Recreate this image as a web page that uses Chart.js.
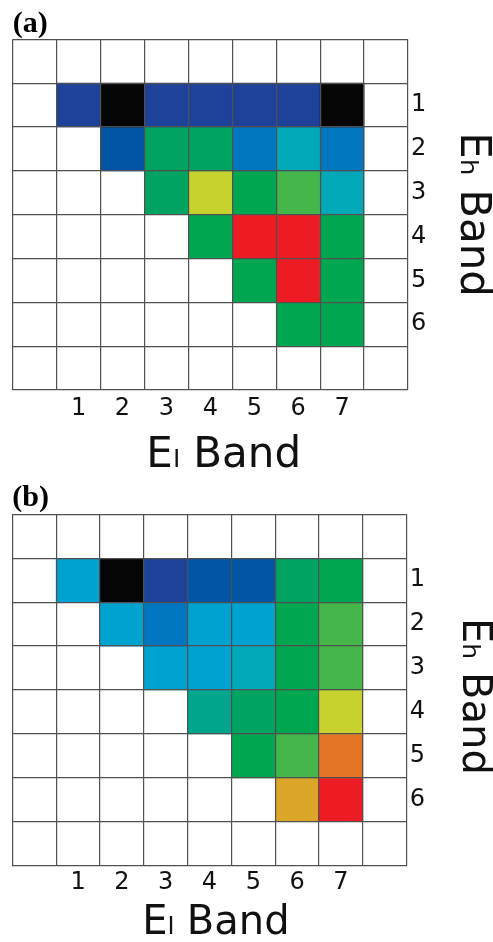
<!DOCTYPE html>
<html>
<head>
<meta charset="utf-8">
<title>E band maps</title>
<script src="https://cdn.jsdelivr.net/npm/chart.js@4.4.1/dist/chart.umd.min.js"></script>
<style>
  body { margin: 0; background: #fff; }
  canvas { display: block; }
</style>
</head>
<body>
<canvas id="chart-a" width="493" height="480"></canvas>
<canvas id="chart-b" width="493" height="462"></canvas>
<script>
const columnLabels = ['', '1', '2', '3', '4', '5', '6', '7', ''];
const rowLabels = ['', '1', '2', '3', '4', '5', '6', ''];

// colour levels, low (black) to high (red)
const palette = ['#050505', '#1e419a', '#0255a5', '#0077c0', '#00a2d0', '#00a8b8', '#00a58c',
  '#00a360', '#00a650', '#45b649', '#c8d22e', '#dba527', '#e47425', '#ed1c24'];

// rows = Eh band 1-6, columns = El band 1-7, null = empty cell
const levelsA = [
  [1, 0, 1, 1, 1, 1, 0],
  [null, 2, 7, 7, 3, 5, 3],
  [null, null, 7, 10, 8, 9, 5],
  [null, null, null, 8, 13, 13, 8],
  [null, null, null, null, 8, 13, 8],
  [null, null, null, null, null, 8, 8],
];
const levelsB = [
  [4, 0, 1, 2, 2, 7, 8],
  [null, 4, 3, 4, 4, 8, 9],
  [null, null, 4, 4, 5, 8, 9],
  [null, null, null, 6, 7, 8, 10],
  [null, null, null, null, 8, 9, 12],
  [null, null, null, null, null, 11, 13],
];

const gridColor = '#505050';
const sans = 'DejaVu Sans';

function rowDatasets(levels) {
  return levels.map((row, r) => {
    const cells = [null, ...row, null];
    return {
      data: cells.map(v => v === null ? null : [r + 1, r + 2]),
      backgroundColor: cells.map(v => v === null ? 'rgba(0,0,0,0)' : palette[v]),
      grouped: false,
      barPercentage: 1,
      categoryPercentage: 1,
      borderWidth: 0,
    };
  });
}

function makeChart(id, panel, levels, box) {
  return new Chart(id, {
    type: 'bar',
    data: {
      labels: columnLabels,
      datasets: rowDatasets(levels),
    },
    options: {
      responsive: false,
      animation: false,
      layout: { padding: { left: box.left, right: 0, top: 0, bottom: 0 } },
      plugins: {
        legend: { display: false },
        tooltip: { enabled: false },
        title: {
          display: true,
          text: panel,
          align: 'start',
          color: '#000',
          font: { family: 'Liberation Serif', weight: 'bold', size: 30, lineHeight: 1 },
          padding: { top: box.titleTop, bottom: box.top - box.titleTop - 30 },
        },
      },
      scales: {
        x: {
          type: 'category',
          position: 'bottom',
          offset: true,
          grid: { offset: true, color: gridColor, lineWidth: 1.2, drawTicks: false, z: 1 },
          border: { display: false },
          ticks: { color: '#111', font: { family: sans, size: 24 }, padding: box.tickPad, maxRotation: 0, autoSkip: false },
          title: {
            display: true,
            text: box.xTitle,
            color: '#111',
            font: { family: sans, size: box.titleSize, lineHeight: 1 },
            padding: { top: 0, bottom: box.titleBottom },
          },
          afterFit: s => { s.height = box.bottom; },
        },
        y: {
          type: 'linear',
          position: 'left',
          min: 0,
          max: 8,
          reverse: true,
          grid: { color: gridColor, lineWidth: 1.2, drawTicks: false, z: 1 },
          border: { display: false },
          ticks: { display: false, stepSize: 1 },
          afterFit: s => { s.width = 0; },
        },
        yLabels: {
          type: 'category',
          position: 'right',
          labels: rowLabels,
          offset: true,
          grid: { display: false, drawTicks: false },
          border: { display: false },
          ticks: { color: '#111', font: { family: sans, size: 24 }, padding: 3, autoSkip: false },
          title: {
            display: true,
            text: box.yTitle,
            color: '#111',
            font: { family: sans, size: box.titleSize, lineHeight: 1 },
            padding: { top: 0, bottom: 0 },
          },
          afterFit: s => { s.width = box.right; },
        },
      },
    },
  });
}

makeChart('chart-a', '(a)', levelsA, {
  left: 12.7, top: 39.3, titleTop: 9, bottom: 90, tickPad: 4, right: 85,
  titleSize: 42, titleBottom: 2.5, xTitle: '  Eₗ Band', yTitle: 'Eₕ Band',
});
makeChart('chart-b', '(b)', levelsB, {
  left: 12.3, top: 34.3, titleTop: 3, bottom: 76.3, tickPad: 3, right: 86.3,
  titleSize: 40, titleBottom: -2, xTitle: ' Eₗ Band', yTitle: ' Eₕ Band',
});
</script>
</body>
</html>
